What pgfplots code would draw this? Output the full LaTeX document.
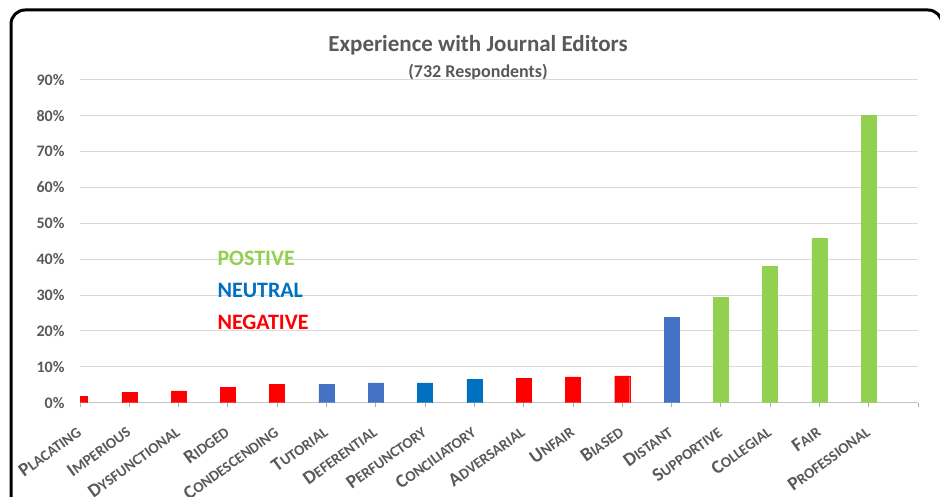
\documentclass[border=0pt]{standalone}
\usepackage{pgfplots}
\pgfplotsset{compat=1.18}
\usepackage{fontspec}
\setmainfont{Carlito}
\definecolor{txtgray}{HTML}{595959}
\definecolor{cred}{HTML}{FF0000}
\definecolor{cblueL}{HTML}{4472C4}
\definecolor{cblueD}{HTML}{0070C0}
\definecolor{cgreen}{HTML}{92D050}
\definecolor{gridgray}{HTML}{D9D9D9}
\newcommand\smc[2]{{\fontsize{19}{19}\selectfont #1}{\fontsize{15}{15}\selectfont #2}}
\begin{document}
\begin{tikzpicture}[x=1pt,y=1pt]
\useasboundingbox (0,0) rectangle (940,496);
\draw[line width=3pt, rounded corners=14pt] (11,-20) rectangle (942,486);
\node[font=\bfseries\fontsize{23}{23}\selectfont, text=txtgray] at (478,451) {Experience with Journal Editors};
\node[font=\bfseries\fontsize{18}{18}\selectfont, text=txtgray] at (478,424) {(732 Respondents)};
\begin{axis}[
  at={(80pt,93.3pt)}, anchor=south west,
  scale only axis, width=838pt, height=323pt,
  xmin=0, xmax=17, ymin=0, ymax=90,
  axis line style={draw=none},
  ytick={0,10,...,90},
  yticklabels={0\%,10\%,20\%,30\%,40\%,50\%,60\%,70\%,80\%,90\%},
  yticklabel style={font=\bfseries\fontsize{16}{16}\selectfont, text=txtgray, xshift=-8pt},
  ymajorgrids, grid style={gridgray, line width=1pt},
  ytick style={draw=none},
  xtick={0,...,17},
  xticklabels={\smc{P}{LACATING},\smc{I}{MPERIOUS},\smc{D}{YSFUNCTIONAL},\smc{R}{IDGED},\smc{C}{ONDESCENDING},\smc{T}{UTORIAL},\smc{D}{EFERENTIAL},\smc{P}{ERFUNCTORY},\smc{C}{ONCILIATORY},\smc{A}{DVERSARIAL},\smc{U}{NFAIR},\smc{B}{IASED},\smc{D}{ISTANT},\smc{S}{UPPORTIVE},\smc{C}{OLLEGIAL},\smc{F}{AIR},\smc{P}{ROFESSIONAL},{}},
  xticklabel style={font=\bfseries, text=txtgray, rotate=36, anchor=east, yshift=-18pt, xshift=-11pt},
  xtick pos=bottom, tick align=outside,
  major tick length=4pt,
  xtick style={gridgray!80!black, line width=0.8pt},
  ybar, bar width=15pt, bar shift=0pt,
  clip=true,
]
\draw[gridgray!90!black, line width=1.2pt] (axis cs:0,0) -- (axis cs:17,0);
\addplot[fill=cred, draw=cred] coordinates {(0,1.7) (1,2.9) (2,3.3) (3,4.3) (4,5.2) (9,6.8) (10,7.2) (11,7.5)};
\addplot[fill=cblueL, draw=cblueL] coordinates {(5,5.2) (6,5.5) (12,23.8)};
\addplot[fill=cblueD, draw=cblueD] coordinates {(7,5.5) (8,6.6)};
\addplot[fill=cgreen, draw=cgreen] coordinates {(13,29.3) (14,38.0) (15,45.8) (16,80)};
\end{axis}
\node[anchor=west, font=\bfseries\fontsize{22}{22}\selectfont, text=cgreen] at (214,238) {POSTIVE};
\node[anchor=west, font=\bfseries\fontsize{22}{22}\selectfont, text=cblueD] at (214,206) {NEUTRAL};
\node[anchor=west, font=\bfseries\fontsize{22}{22}\selectfont, text=cred] at (214,174) {NEGATIVE};
\end{tikzpicture}
\end{document}
